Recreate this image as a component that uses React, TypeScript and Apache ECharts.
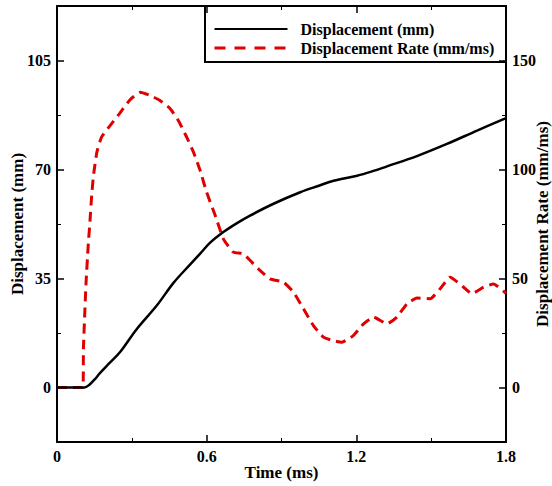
import React, { useEffect, useRef } from "react";
import * as echarts from "echarts";

// Time (ms) and displacement (mm)
const dispTime = [0, 0.11, 0.13, 0.15, 0.172, 0.21, 0.253, 0.32, 0.4, 0.467, 0.535, 0.574, 0.614, 0.667, 0.72, 0.774, 0.868, 0.975, 1.05, 1.109, 1.203, 1.26, 1.323, 1.443, 1.563, 1.684, 1.8];
const dispValues = [0, 0, 0.9, 2.5, 4.6, 7.8, 11.4, 18.8, 26.3, 33.6, 39.6, 43, 46.5, 49.9, 52.7, 55.2, 59, 62.7, 64.8, 66.4, 68, 69.3, 71, 74.3, 78.2, 82.5, 86.5];

// Time (ms) and displacement rate (mm/ms)
const rateTime = [0, 0.104, 0.106, 0.116, 0.125, 0.132, 0.139, 0.146, 0.16, 0.179, 0.212, 0.253, 0.293, 0.333, 0.373, 0.413, 0.453, 0.487, 0.52, 0.547, 0.574, 0.6, 0.634, 0.667, 0.707, 0.747, 0.807, 0.854, 0.908, 0.948, 0.988, 1.028, 1.068, 1.108, 1.142, 1.188, 1.229, 1.269, 1.323, 1.363, 1.403, 1.443, 1.496, 1.536, 1.576, 1.63, 1.663, 1.71, 1.75, 1.8];
const rateValues = [0, 0, 18, 47, 65, 76, 88, 97, 108, 115, 120, 126, 132, 135.4, 134, 131.6, 128, 122.4, 114.8, 108, 99.5, 89.5, 79, 68.2, 62.1, 61.3, 54.4, 49.8, 48.3, 43.7, 36.1, 28.4, 23.1, 21.5, 20.8, 23.8, 29.2, 32.3, 29.2, 32.3, 38.4, 41, 40.7, 45.3, 50.6, 46, 43, 46, 47.5, 43.2];

const xTicks = [0, 0.6, 1.2, 1.8];
const leftMajor = [0, 35, 70, 105];
const leftMinor = [17.5, 52.5, 87.5];
const rightMajor = [0, 50, 100, 150];
const rightMinor = [25, 75, 125];

const FONT = "Liberation Serif";

export default function App() {
  const ref = useRef<HTMLDivElement>(null);
  useEffect(() => {
    if (!ref.current) return;
    const chart = echarts.init(ref.current, null, { renderer: "svg" });
    const axisLine = { show: true, onZero: false, lineStyle: { color: "#000", width: 2 } };
    const noLine = { show: false, onZero: false };
    const labelStyle = { color: "#000", fontFamily: FONT, fontWeight: "bold" as const, fontSize: 16 };
    const nameStyle = { color: "#000", fontFamily: FONT, fontWeight: "bold" as const, fontSize: 17 };
    const yBase = (pos: "left" | "right", min: number, max: number) => ({
      type: "value" as const,
      position: pos,
      min,
      max,
      splitLine: { show: false },
    });
    chart.setOption({
      animation: false,
      backgroundColor: "#fff",
      grid: { left: 57, right: 46, top: 6, bottom: 44, containLabel: false, outerBoundsMode: "none" },
      graphic: [
        {
          type: "rect",
          z: -10,
          shape: { x: 205, y: 6, width: 301, height: 56 },
          style: { fill: "#fff", stroke: "#000", lineWidth: 2 },
        },
      ],
      legend: {
        orient: "vertical",
        left: 213,
        top: 21,
        padding: 0,
        itemWidth: 73,
        itemHeight: 14,
        itemGap: 3,
        z: 4,
        itemStyle: { opacity: 0, borderWidth: 0 },
        textStyle: { ...labelStyle, lineHeight: 16, padding: [0, 0, 0, 8] },
        data: [
          { name: "Displacement (mm)" },
          { name: "Displacement Rate (mm/ms)", lineStyle: { type: [11, 9], width: 3, color: "#e00000" } },
        ],
      },
      xAxis: [
        {
          type: "value",
          position: "bottom",
          min: 0,
          max: 1.8,
          interval: 0.6,
          name: "Time (ms)",
          nameLocation: "middle",
          nameGap: 22,
          nameMoveOverlap: false,
          nameTextStyle: nameStyle,
          axisLine,
          axisTick: { inside: true, length: 7, lineStyle: { color: "#000", width: 1.5 }, customValues: xTicks },
          minorTick: { show: true, splitNumber: 2, length: 4, lineStyle: { color: "#000", width: 1 } },
          axisLabel: { ...labelStyle, margin: 6, customValues: xTicks, formatter: (v: number) => String(v) },
          splitLine: { show: false },
        },
        {
          type: "value",
          position: "top",
          min: 0,
          max: 1.8,
          interval: 0.6,
          axisLine,
          axisTick: { inside: true, length: 7, lineStyle: { color: "#000", width: 1.5 } },
          minorTick: { show: true, splitNumber: 2, length: 4, lineStyle: { color: "#000", width: 1 } },
          axisLabel: { show: false },
          splitLine: { show: false },
        },
      ],
      yAxis: [
        {
          ...yBase("left", -17.5, 122.5),
          name: "Displacement (mm)",
          nameLocation: "middle",
          nameGap: 31,
          nameMoveOverlap: false,
          nameTextStyle: nameStyle,
          axisLine,
          axisTick: { inside: true, length: 7, lineStyle: { color: "#000", width: 1.5 }, customValues: leftMajor },
          axisLabel: { ...labelStyle, margin: 6, customValues: leftMajor },
        },
        {
          ...yBase("right", -25, 175),
          name: "Displacement Rate (mm/ms)",
          nameLocation: "middle",
          nameGap: 28,
          nameMoveOverlap: false,
          nameTextStyle: nameStyle,
          axisLine,
          axisTick: { inside: true, length: 7, lineStyle: { color: "#000", width: 1.5 }, customValues: rightMajor },
          axisLabel: { ...labelStyle, margin: 6, customValues: rightMajor },
        },
        {
          ...yBase("left", -17.5, 122.5),
          axisLine: noLine,
          axisTick: { inside: true, length: 4, lineStyle: { color: "#000", width: 1 }, customValues: leftMinor },
          axisLabel: { show: false },
        },
        {
          ...yBase("right", -25, 175),
          axisLine: noLine,
          axisTick: { inside: true, length: 4, lineStyle: { color: "#000", width: 1 }, customValues: rightMinor },
          axisLabel: { show: false },
        },
      ],
      series: [
        {
          name: "Displacement (mm)",
          type: "line",
          xAxisIndex: 0,
          yAxisIndex: 0,
          symbol: "none",
          smooth: 0.35,
          lineStyle: { color: "#000", width: 2.5 },
          itemStyle: { color: "#000" },
          data: dispTime.map((t, i) => [t, dispValues[i]]),
          z: 3,
        },
        {
          name: "Displacement Rate (mm/ms)",
          type: "line",
          xAxisIndex: 0,
          yAxisIndex: 1,
          symbol: "none",
          smooth: 0.15,
          lineStyle: { color: "#e00000", width: 3, type: [10, 6] },
          itemStyle: { color: "#e00000" },
          data: rateTime.map((t, i) => [t, rateValues[i]]),
          z: 2,
        },
      ],
    });
    return () => chart.dispose();
  }, []);
  return <div ref={ref} style={{ position: "fixed", left: 0, top: 0, width: 552, height: 486 }} />;
}
